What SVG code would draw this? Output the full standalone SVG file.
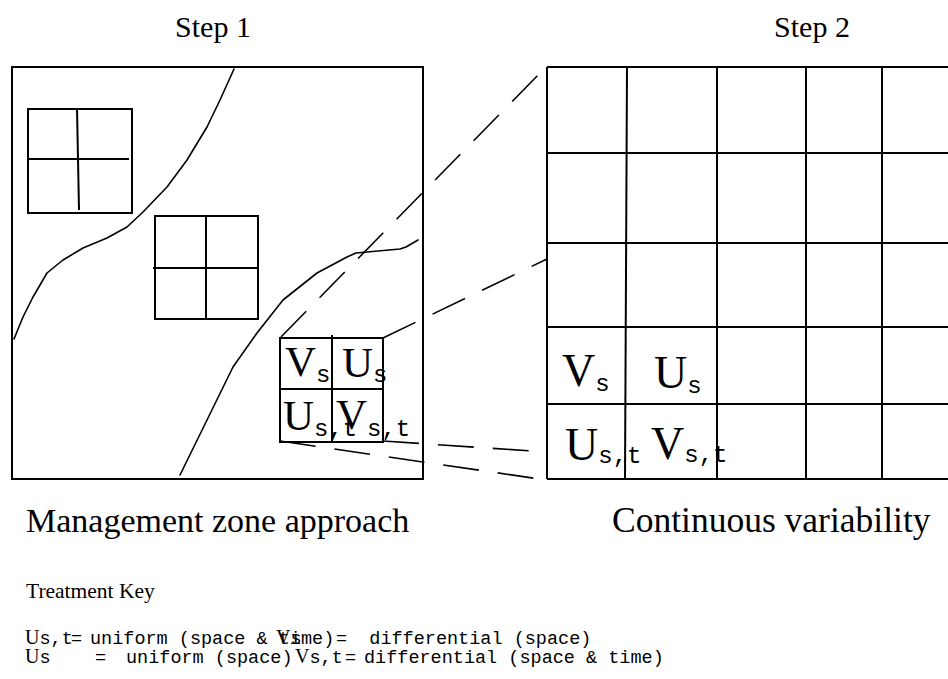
<svg xmlns="http://www.w3.org/2000/svg" width="948" height="679" viewBox="0 0 948 679">
<style>
.ln{fill:none;stroke:#000;stroke-width:2}
.cv{fill:none;stroke:#000;stroke-width:1.6;stroke-linejoin:round;stroke-linecap:round}
.da{fill:none;stroke:#000;stroke-width:1.6;stroke-dasharray:36 19}
.serif{font-family:"Liberation Serif","Times New Roman",serif;fill:#000}
.mono{font-family:"Liberation Mono","Courier New",monospace;fill:#000}
.big{font-size:43px}
.big2{font-size:46px}
.sub{font-size:24px}
.leg{font-size:18.5px}
.legs{font-size:20px}
</style>
<rect width="948" height="679" fill="#fff"/>

<g id="titles">
<text class="serif" x="213" y="37" font-size="30" text-anchor="middle">Step 1</text>
<text class="serif" x="812" y="37" font-size="30" text-anchor="middle">Step 2</text>
<text class="serif" x="26" y="532" font-size="34">Management zone approach</text>
<text class="serif" x="612" y="532" font-size="35.5">Continuous variability</text>
<text class="serif" x="26" y="598" font-size="21.5">Treatment Key</text>
</g>

<g id="field">
<rect class="ln" x="12" y="67" width="411" height="412"/>
<path class="cv" d="M14,339 L23,317 L33,297 L47,273 L63,260 L83,248 L107,238 L127,227 L143,212 L167,187 L187,160 L207,127 L220,100 L234,69"/>
<path class="cv" d="M180,475 L207,420 L233,367 L257,333 L283,300 L317,273 L347,257 L356,253 L400,249 L406,247 L418,240"/>
</g>

<g id="zone1">
<rect class="ln" x="28" y="109" width="104" height="104"/>
<line class="ln" x1="27" y1="159" x2="129" y2="159"/>
<line class="ln" x1="77" y1="108" x2="79" y2="210"/>
</g>

<g id="zone2">
<rect class="ln" x="155" y="216" width="103" height="103"/>
<line class="ln" x1="153" y1="268" x2="259" y2="268"/>
<line class="ln" x1="206" y1="216" x2="206" y2="319"/>
</g>

<g id="zone3">
<rect class="ln" x="280" y="338" width="103" height="104"/>
<line class="ln" x1="280" y1="389" x2="383" y2="389"/>
<line class="ln" x1="332" y1="335" x2="332" y2="442"/>
<text class="serif big" x="285" y="376">V<tspan class="mono sub" dy="6">s</tspan></text>
<text class="serif big" x="342" y="377">U<tspan class="mono sub" dy="5">s</tspan></text>
<text class="serif big" x="283" y="430">U<tspan class="mono sub" dy="6">s,t</tspan></text>
<text class="serif big" x="336" y="429">V<tspan class="mono sub" dy="7">s,t</tspan></text>
</g>

<g id="connectors">
<line class="da" x1="281" y1="337" x2="546" y2="67"/>
<line class="da" x1="383" y1="338" x2="547" y2="259"/>
<line class="da" x1="383" y1="441" x2="547" y2="452"/>
<line class="da" x1="280" y1="441" x2="546" y2="480"/>
</g>

<g id="grid">
<line class="ln" x1="547" y1="67" x2="948" y2="67"/>
<line class="ln" x1="547" y1="153" x2="948" y2="153"/>
<line class="ln" x1="547" y1="243" x2="948" y2="243"/>
<line class="ln" x1="547" y1="327" x2="948" y2="327"/>
<line class="ln" x1="547" y1="404" x2="948" y2="404"/>
<line class="ln" x1="547" y1="479" x2="948" y2="479"/>
<line class="ln" x1="547" y1="67" x2="547" y2="479"/>
<line class="ln" x1="627" y1="67" x2="625" y2="479"/>
<line class="ln" x1="717" y1="67" x2="717" y2="479"/>
<line class="ln" x1="806" y1="67" x2="806" y2="479"/>
<line class="ln" x1="882" y1="67" x2="882" y2="479"/>
<text class="serif big2" x="562" y="386">V<tspan class="mono sub" dy="5">s</tspan></text>
<text class="serif big2" x="654" y="388">U<tspan class="mono sub" dy="5">s</tspan></text>
<text class="serif big2" x="565" y="460">U<tspan class="mono sub" dy="3">s,t</tspan></text>
<text class="serif big2" x="651" y="459">V<tspan class="mono sub" dy="3">s,t</tspan></text>
</g>

<g id="legend">
<text class="serif legs" x="25" y="644">U<tspan class="mono leg">s,t</tspan></text>
<text class="mono leg" x="71" y="644">=</text>
<text class="mono leg" x="90" y="644" xml:space="preserve">uniform (space &amp; time)</text>
<text class="serif legs" x="276" y="644">V<tspan class="mono leg">s</tspan></text>
<text class="mono leg" x="336" y="644" xml:space="preserve">=  differential (space)</text>
<text class="serif legs" x="25" y="663">U<tspan class="mono leg">s</tspan></text>
<text class="mono leg" x="95" y="663">=</text>
<text class="mono leg" x="126" y="663" xml:space="preserve">uniform (space)</text>
<text class="serif legs" x="295" y="663">V<tspan class="mono leg">s,t</tspan></text>
<text class="mono leg" x="345" y="663">=</text>
<text class="mono leg" x="364" y="663" xml:space="preserve">differential (space &amp; time)</text>
</g>
</svg>
